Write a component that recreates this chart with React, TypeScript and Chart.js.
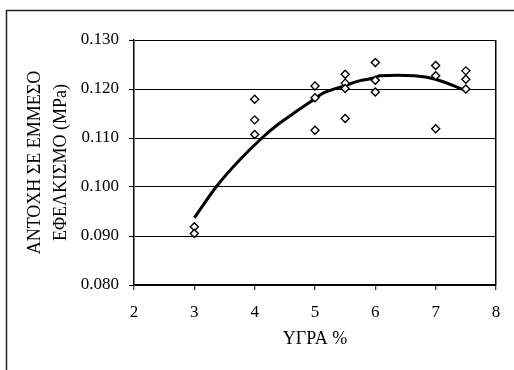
import React, { useEffect, useRef } from "react";
import { Chart, registerables } from "chart.js";

Chart.register(...registerables);

// Measured specimens: moisture content (%) and indirect tensile strength (MPa)
const moisture = [3, 3, 4, 4, 4, 5, 5, 5, 5.5, 5.5, 5.5, 5.5, 6, 6, 6, 7, 7, 7, 7.5, 7.5, 7.5];
const strength = [
  0.0919, 0.0905, 0.1179, 0.1137, 0.1107, 0.1206, 0.1182, 0.1116, 0.123, 0.1212, 0.1201,
  0.114, 0.1254, 0.1218, 0.1194, 0.1248, 0.1227, 0.1119, 0.1237, 0.122, 0.12,
];

// Fitted trend curve
const trendX = [3, 3.36, 3.75, 4.12, 4.4, 4.7, 5, 5.14, 5.5, 5.75, 6, 6.07, 6.65, 7, 7.5];
const trendY = [
  0.0937, 0.1, 0.1055, 0.11, 0.1129, 0.1155, 0.118, 0.1192, 0.1207, 0.1217, 0.1223, 0.1227,
  0.1227, 0.122, 0.1197,
];

// Axis settings
const xTicks = [2, 3, 4, 5, 6, 7, 8];
const yTicks = [0.08, 0.09, 0.1, 0.11, 0.12, 0.13];
const xTitle = "ΥΓΡΑ %";
const yTitle = ["ΑΝΤΟΧΗ ΣΕ ΕΜΜΕΣΟ", "ΕΦΕΛΚΙΣΜΟ (MPa)"];

const FONT = "'Liberation Serif', 'Times New Roman', serif";

// Outer frame of the chart object
const framePlugin = {
  id: "frame",
  afterDraw(chart: Chart) {
    const ctx = chart.ctx;
    ctx.save();
    ctx.strokeStyle = "#222";
    ctx.lineWidth = 1.5;
    ctx.beginPath();
    ctx.moveTo(6.5, 370);
    ctx.lineTo(6.5, 10.5);
    ctx.lineTo(514, 10.5);
    ctx.stroke();
    ctx.restore();
  },
};

export default function App() {
  const ref = useRef<HTMLCanvasElement>(null);

  useEffect(() => {
    if (!ref.current) return;
    const chart = new Chart(ref.current, {
      type: "scatter",
      data: {
        datasets: [
          {
            label: "data",
            data: moisture.map((x, i) => ({ x, y: strength[i] })),
            pointStyle: "rectRot",
            pointRadius: 4,
            pointBorderWidth: 1.4,
            pointBorderColor: "#000",
            pointBackgroundColor: "#fff",
            showLine: false,
            order: 0,
          },
          {
            label: "trend",
            data: trendX.map((x, i) => ({ x, y: trendY[i] })),
            showLine: true,
            borderColor: "#000",
            borderWidth: 3,
            pointRadius: 0,
            tension: 0.3,
            order: 1,
          },
        ],
      },
      options: {
        animation: false,
        responsive: false,
        devicePixelRatio: 1,
        layout: { padding: { left: 0, top: 40, right: 18, bottom: 0 } },
        plugins: { legend: { display: false }, tooltip: { enabled: false } },
        scales: {
          x: {
            type: "linear",
            min: 2,
            max: 8,
            afterFit: (s: any) => {
              s.height = 85;
            },
            afterBuildTicks: (s: any) => {
              s.ticks = xTicks.map((v) => ({ value: v }));
            },
            ticks: {
              color: "#000",
              font: { family: FONT, size: 17 },
              padding: 12,
              callback: (v: any) => String(v),
            },
            grid: {
              color: (c: any) => (c.tick && c.tick.value === 8 ? "#000" : "rgba(0,0,0,0)"),
              lineWidth: 1.5,
              tickColor: "#000",
              tickLength: 5,
              tickWidth: 1,
            },
            border: { display: true, color: "#000", width: 1.5 },
            title: {
              display: true,
              text: xTitle,
              color: "#000",
              font: { family: FONT, size: 18, lineHeight: 1.2 },
              padding: { top: 0, bottom: 20 },
            },
          },
          y: {
            type: "linear",
            min: 0.08,
            max: 0.13,
            afterFit: (s: any) => {
              s.width = 134;
            },
            afterBuildTicks: (s: any) => {
              s.ticks = yTicks.map((v) => ({ value: v }));
            },
            ticks: {
              color: "#000",
              font: { family: FONT, size: 17 },
              padding: 10,
              callback: (v: any) => Number(v).toFixed(3),
            },
            grid: {
              color: "#000",
              lineWidth: 1,
              tickColor: "#000",
              tickLength: 5,
            },
            border: { display: true, color: "#000", width: 1.5 },
            title: {
              display: true,
              text: yTitle,
              color: "#000",
              font: { family: FONT, size: 18, lineHeight: 1.45 },
              padding: { top: 22, bottom: 0 },
            },
          },
        },
      },
      plugins: [framePlugin],
    });
    return () => chart.destroy();
  }, []);

  return (
    <div style={{ position: "absolute", left: 0, top: 0, width: 514, height: 370, background: "#fff" }}>
      <canvas ref={ref} width={514} height={370} />
    </div>
  );
}
